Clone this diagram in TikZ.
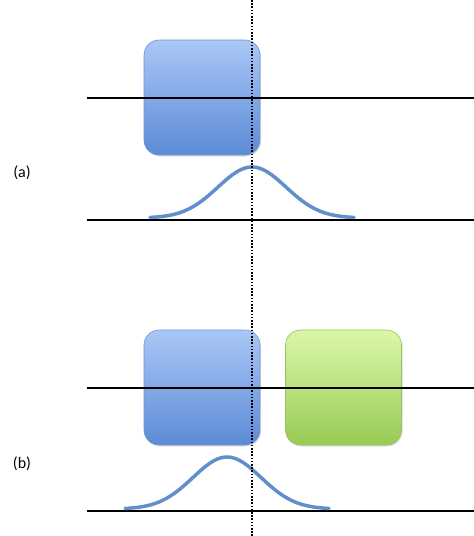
\documentclass[tikz,border=0pt]{standalone}
\usepackage{fontspec}
\setmainfont{Carlito}
\usetikzlibrary{shadows}
\definecolor{bluetop}{RGB}{170,199,246}
\definecolor{bluebot}{RGB}{92,139,214}
\definecolor{blueedge}{RGB}{110,150,210}
\definecolor{greentop}{RGB}{218,247,170}
\definecolor{greenbot}{RGB}{152,203,84}
\definecolor{greenedge}{RGB}{150,195,95}
\definecolor{curve}{RGB}{96,143,204}
\tikzset{
  box/.style={rounded corners=15pt, minimum width=116pt, minimum height=115pt, inner sep=0pt,
    line width=0.6pt, drop shadow={opacity=0.25, shadow xshift=1pt, shadow yshift=-1.5pt}},
  bluebox/.style={box, draw=blueedge, top color=bluetop, bottom color=bluebot},
  greenbox/.style={box, draw=greenedge, top color=greentop, bottom color=greenbot},
  axis/.style={line width=2pt, black},
  gauss/.style={line width=3.5pt, curve, line cap=round},
  vdot/.style={line width=2.2pt, black, dash pattern=on 1.6pt off 1.6pt},
  lab/.style={font=\fontsize{16}{18}\selectfont, inner sep=0pt}
}
\begin{document}
\begin{tikzpicture}[x=1pt,y=-1pt]
\useasboundingbox (0,0) rectangle (474,536);
% (a)
\node[bluebox] (boxa) at (202,97.5) {};
\coordinate (la1) at (87,98);
\coordinate (la2) at (474,98);
\draw[axis] (la1) -- (la2);
\coordinate (ba1) at (87,220);
\coordinate (ba2) at (474,220);
\draw[axis] (ba1) -- (ba2);
\draw[gauss] plot[domain=-102:102, samples=80, smooth] ({252+\x},{218-51*exp(-(\x/34)*(\x/34)/2)});
\node[lab] (a) at (22,173) {(a)};
% (b)
\node[bluebox] (boxb1) at (202,387.5) {};
\node[greenbox] (boxb2) at (343.5,387.5) {};
\coordinate (lb1) at (87,388);
\coordinate (lb2) at (474,388);
\draw[axis] (lb1) -- (lb2);
\coordinate (bb1) at (87,511);
\coordinate (bb2) at (474,511);
\draw[axis] (bb1) -- (bb2);
\draw[gauss] plot[domain=-102:102, samples=80, smooth] ({227+\x},{509-52*exp(-(\x/34)*(\x/34)/2)});
\node[lab] (b) at (22,464) {(b)};
% dotted vertical
\coordinate (vt) at (252,0);
\coordinate (vb) at (252,536);
\draw[vdot] (vt) -- (vb);
\end{tikzpicture}
\end{document}
